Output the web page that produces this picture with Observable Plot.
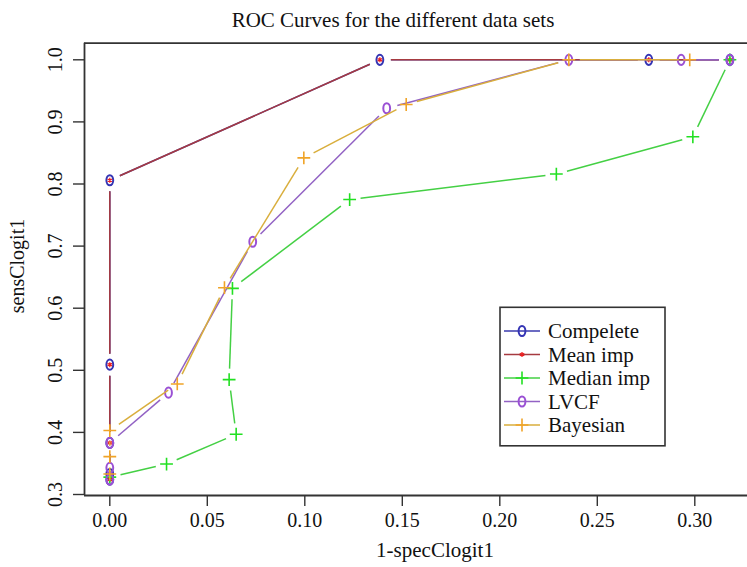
<!DOCTYPE html>
<html><head><meta charset="utf-8">
<script src="https://cdn.jsdelivr.net/npm/d3@7"></script>
<script src="https://cdn.jsdelivr.net/npm/@observablehq/plot@0.6"></script>
<style>
html,body{margin:0;padding:0;background:#fff;}
#wrap{position:relative;width:747px;height:567px;overflow:hidden;font-family:"Liberation Serif","Times New Roman",serif;}
#wrap svg{position:absolute;left:0;top:0;}
</style></head><body><div id="wrap"></div>
<script>
// ---- data ----
const titleText = "ROC Curves for the different data sets";
const xLabel = "1-specClogit1";
const yLabel = "sensClogit1";
const seriesNames = ["Compelete", "Mean imp", "Median imp", "LVCF", "Bayesian"];
const completeX = [0, 0, 0, 0, 0, 0.1385, 0.2764, 0.318];
const completeY = [0.324, 0.333, 0.383, 0.509, 0.806, 1.0, 1.0, 1.0];
const meanX = [0, 0, 0, 0, 0, 0.1385, 0.2764, 0.318];
const meanY = [0.324, 0.333, 0.383, 0.509, 0.806, 1.0, 1.0, 1.0];
const medianX = [0, 0.0291, 0.0648, 0.0612, 0.0629, 0.123, 0.229, 0.299, 0.318];
const medianY = [0.328, 0.349, 0.397, 0.485, 0.632, 0.775, 0.816, 0.876, 1.0];
const lvcfX = [0, 0, 0, 0.0301, 0.0733, 0.142, 0.2354, 0.293, 0.318];
const lvcfY = [0.324, 0.343, 0.383, 0.464, 0.707, 0.922, 1.0, 1.0, 1.0];
const bayesX = [0, 0, 0, 0.0346, 0.0588, 0.0995, 0.152, 0.2354, 0.2974];
const bayesY = [0.333, 0.361, 0.403, 0.478, 0.633, 0.842, 0.928, 1.0, 1.0];
const xTicks = [0, 0.05, 0.10, 0.15, 0.20, 0.25, 0.30];
const yTicks = [0.3, 0.4, 0.5, 0.6, 0.7, 0.8, 0.9, 1.0];

// ---- styles ----
const W = 747, H = 567;
const ellipse = {
  draw(ctx) {
    const rx = 3.4, ry = 5.1, k = 0.5523;
    ctx.moveTo(rx, 0);
    ctx.bezierCurveTo(rx, k * ry, k * rx, ry, 0, ry);
    ctx.bezierCurveTo(-k * rx, ry, -rx, k * ry, -rx, 0);
    ctx.bezierCurveTo(-rx, -k * ry, -k * rx, -ry, 0, -ry);
    ctx.bezierCurveTo(k * rx, -ry, rx, -k * ry, rx, 0);
    ctx.closePath();
  }
};
const styles = [
  {line: "#3a3aae", sym: "#3434b4", symbol: ellipse, r: 5, sw: 2},
  {line: "#a63a40", sym: "#ee2020", symbol: "asterisk", r: 2.4, sw: 1.3},
  {line: "#44d044", sym: "#22e022", symbol: "plus", r: 4.2, sw: 1.6},
  {line: "#9262c4", sym: "#9a50d4", symbol: ellipse, r: 5, sw: 2},
  {line: "#d9ae3c", sym: "#f0a428", symbol: "plus", r: 4.2, sw: 1.6}
];
const xs = [completeX, meanX, medianX, lvcfX, bayesX];
const ys = [completeY, meanY, medianY, lvcfY, bayesY];
const series = seriesNames.map((name, i) => ({name, ...styles[i],
  pts: xs[i].map((x, j) => ({x, y: ys[i][j]}))}));

const marginLeft = 84, marginTop = 42.7, marginBottom = 72, marginRight = 0;
const x0px = 109.3, pxPerX = 1950;
const xDomain = [(marginLeft - x0px) / pxPerX, (W - marginRight - x0px) / pxPerX];
const y03px = 494, pxPerY = 621;
const yDomain = [0.3 - ((H - marginBottom) - y03px) / pxPerY, 1.0 + (y03px - 0.7 * pxPerY - marginTop) / pxPerY];

// scales used to cut "type b" gaps around the points
const sx = Plot.scale({x: {domain: xDomain, range: [marginLeft, W - marginRight]}});
const sy = Plot.scale({y: {domain: yDomain, range: [H - marginBottom, marginTop]}});
const GAP = 11;
function gapSegments(pts) {
  return d3.pairs(pts).flatMap(([a, b]) => {
    const ax = sx.apply(a.x), ay = sy.apply(a.y), bx = sx.apply(b.x), by = sy.apply(b.y);
    const L = Math.hypot(bx - ax, by - ay);
    if (L <= 2 * GAP) return [];
    const ux = (bx - ax) / L, uy = (by - ay) / L;
    return [{x1: sx.invert(ax + ux * GAP), y1: sy.invert(ay + uy * GAP),
             x2: sx.invert(bx - ux * GAP), y2: sy.invert(by - uy * GAP)}];
  });
}

const marks = [];
for (const s of series) {
  marks.push(Plot.link(gapSegments(s.pts), {x1: "x1", y1: "y1", x2: "x2", y2: "y2",
    stroke: s.line, strokeWidth: 1.5}));
  marks.push(Plot.dot(s.pts, {x: "x", y: "y", symbol: s.symbol, r: s.r, stroke: s.sym,
    strokeWidth: s.sw, fill: "none"}));
}
marks.push(Plot.ruleY([yDomain[1]], {stroke: "#333", strokeWidth: 1.8}));
marks.push(Plot.ruleY([yDomain[0]], {stroke: "#333", strokeWidth: 1.8}));
marks.push(Plot.ruleX([xDomain[0]], {stroke: "#333", strokeWidth: 1.8}));
marks.push(Plot.axisX(xTicks, {tickSize: 11, tickPadding: 6, tickFormat: d3.format(".2f"),
  fontSize: 20, label: null, stroke: "#333", strokeWidth: 1.4, fill: "#111"}));
marks.push(Plot.axisY(yTicks, {tickSize: 11, tickPadding: 12, tickRotate: -90, tickFormat: d3.format(".1f"),
  fontSize: 20, label: null, stroke: "#333", strokeWidth: 1.4, fill: "#111"}));

const chart = Plot.plot({
  width: W, height: H,
  marginLeft, marginTop, marginBottom, marginRight,
  x: {domain: xDomain},
  y: {domain: yDomain},
  style: {fontFamily: "Liberation Serif", fontSize: "20px", background: "white", color: "#111"},
  marks
});
const wrap = document.getElementById("wrap");
wrap.appendChild(chart);

// ---- overlay: title, axis labels, legend ----
const ov = d3.select(wrap).append("svg").attr("width", W).attr("height", H)
  .style("font-family", "Liberation Serif").style("pointer-events", "none");
ov.append("text").attr("x", 393).attr("y", 27.3).attr("text-anchor", "middle")
  .attr("font-size", 21).attr("fill", "#111").text(titleText);
ov.append("text").attr("x", 435).attr("y", 557).attr("text-anchor", "middle")
  .attr("font-size", 21).attr("fill", "#111").text(xLabel);
ov.append("text").attr("transform", "translate(23.5,266) rotate(-90)").attr("text-anchor", "middle")
  .attr("font-size", 20).attr("fill", "#111").text(yLabel);

const lg = ov.append("g");
lg.append("rect").attr("x", 500).attr("y", 307.3).attr("width", 165).attr("height", 138.5)
  .attr("fill", "white").attr("stroke", "#333").attr("stroke-width", 1.6);
const d3sym = {asterisk: d3.symbolAsterisk, plus: d3.symbolPlus};
series.forEach((s, i) => {
  const cy = 331 + i * 23.5;
  lg.append("line").attr("x1", 504).attr("x2", 540).attr("y1", cy).attr("y2", cy)
    .attr("stroke", s.line).attr("stroke-width", 1.4);
  const type = typeof s.symbol === "string" ? d3sym[s.symbol] : s.symbol;
  lg.append("path").attr("d", d3.symbol(type, s.r * s.r * Math.PI)())
    .attr("transform", `translate(522,${cy})`).attr("fill", "none")
    .attr("stroke", s.sym).attr("stroke-width", s.sw);
  lg.append("text").attr("x", 548).attr("y", cy).attr("dy", "0.35em")
    .attr("font-size", 21).attr("fill", "#111").text(s.name);
});
</script></body></html>
